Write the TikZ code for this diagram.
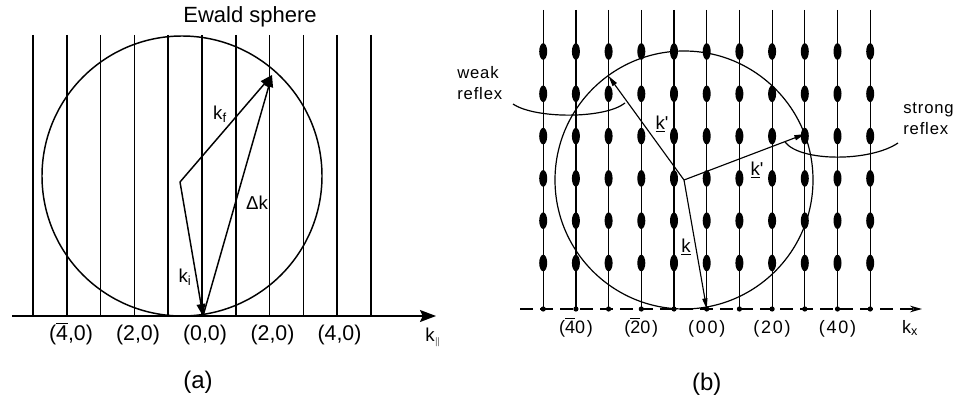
\documentclass[tikz,border=0pt]{standalone}
\usepackage{fontspec}
\setmainfont{Liberation Sans}
\newfontfamily\bfont[LetterSpace=10]{Liberation Sans}
\newfontfamily\rfont[LetterSpace=5]{Liberation Sans}
\usetikzlibrary{arrows.meta}
\newcommand\ovl[1]{\ensuremath{\overline{\mbox{#1}}}}
\begin{document}
\begin{tikzpicture}[x=0.75pt,y=-0.75pt,
  la/.style={line width=1.1pt,black},
  lb/.style={line width=0.9pt,black},
  vecA/.style={line width=1.1pt,-{Triangle[length=9pt,width=6.5pt]}},
  vecB/.style={line width=0.85pt,-{Triangle[length=8pt,width=3.8pt]}},
  ticka/.style={font=\fontsize{16}{18}\selectfont,inner sep=0,anchor=base},
  tickb/.style={font=\bfont\fontsize{13.5}{15}\selectfont,inner sep=0,anchor=base},
  klab/.style={font=\fontsize{14}{16}\selectfont,inner sep=0},
  kblab/.style={font=\bfont\fontsize{14}{16}\selectfont,inner sep=0},
  reflab/.style={font=\rfont\fontsize{12.5}{15.5}\selectfont,inner sep=0,anchor=west,align=left},
  figlab/.style={font=\fontsize{18}{20}\selectfont,inner sep=0}]
\useasboundingbox (0,0) rectangle (957,406);

% ---------------- panel (a) ----------------
\foreach \n in {-5,...,5}
  \draw[la] ({202+33.8*\n},35) -- ({202+33.8*\n},316);
\coordinate (axL) at (12,316);
\coordinate (axR) at (436,316);
\draw[la,-{Stealth[length=12pt,width=9pt,inset=2pt]}] (axL) -- (axR);
\draw[la] (182,176) circle[radius=140];
\node[font=\fontsize{16.5}{18}\selectfont,inner sep=0] (ewald) at (250,17) {Ewald sphere};

\coordinate (Ca) at (180,182);
\coordinate (Oa) at (203,316);
\coordinate (Fa) at (272,75);
\draw[vecA] (Ca) -- (Oa);
\draw[vecA] (Oa) -- (Fa);
\draw[vecA] (Ca) -- (Fa);
\node[klab] (kf) at (220,114) {k\textsubscript{f}};
\node[klab] (ki) at (185,277) {k\textsubscript{i}};
\node[klab] (dk) at (257,203) {Δk};
\node[klab] (kpar) at (433,337) {k$_{\scriptscriptstyle\parallel}$};

\node[ticka] (ta1) at (71,340) {(\ovl{4},0)};
\node[ticka] (ta2) at (138,340) {(2,0)};
\node[ticka] (ta3) at (205,340) {(0,0)};
\node[ticka] (ta4) at (272.5,340) {(2,0)};
\node[ticka] (ta5) at (339.5,340) {(4,0)};
\node[figlab] (capa) at (198,382) {(a)};

% ---------------- panel (b) ----------------
\foreach \n in {-5,...,5}{
  \draw[lb] ({706.7+32.7*\n},10) -- ({706.7+32.7*\n},309);
  \fill ({706.7+32.7*\n},309) circle[radius=2.6];
  \foreach \m in {0,...,5}
    \fill ({706.7+32.7*\n},{51.5+42.3*\m}) ellipse[x radius=4,y radius=8.3];
}
\coordinate (bxL) at (520,309);
\coordinate (bxR) at (922,309);
\draw[lb,dash pattern=on 10pt off 5pt,-{Stealth[length=9pt,width=5pt]}] (bxL) -- (bxR);
\draw[lb] (684,180) circle[radius=129];

\coordinate (Cb) at (684,180);
\coordinate (Ob) at (706.7,309);
\coordinate (Wb) at (608.5,76);
\coordinate (Sb) at (805,134);
\draw[vecB] (Cb) -- (Ob);
\draw[vecB] (Cb) -- (Wb);
\draw[vecB] (Cb) -- (Sb);
\node[kblab] (kw) at (662,124) {\underline{k}'};
\node[kblab] (ks) at (757,170) {\underline{k}'};
\node[kblab] (kk) at (686,247) {\underline{k}};

\node[reflab] (weak) at (457,83) {weak\\reflex};
\node[reflab] (strong) at (903,119) {strong\\reflex};
\coordinate (wS) at (513,104);
\coordinate (wE) at (625,103);
\draw[lb] (wS) .. controls (535,119) and (605,119) .. (wE);
\coordinate (sS) at (898,143);
\coordinate (sE) at (785,142);
\draw[lb] (sS) .. controls (870,162) and (800,162) .. (sE);

\node[tickb] (tb1) at (576,333) {(\ovl{4}0)};
\node[tickb] (tb2) at (641.3,333) {(\ovl{2}0)};
\node[tickb] (tb3) at (706.7,333) {(00)};
\node[tickb] (tb4) at (772,333) {(20)};
\node[tickb] (tb5) at (837.5,333) {(40)};
\node[tickb] (kx) at (910,333) {k\textsubscript{x}};
\node[figlab] (capb) at (706.7,384) {(b)};
\end{tikzpicture}
\end{document}
